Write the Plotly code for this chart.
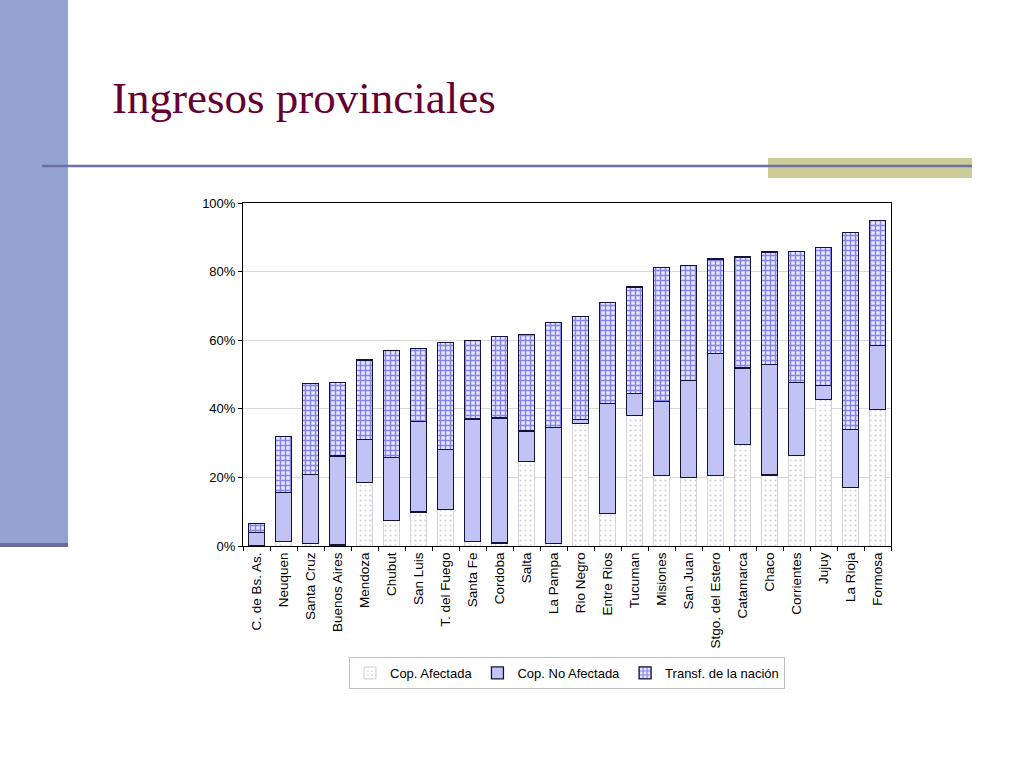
import plotly.graph_objects as go

provincias = ["C. de Bs. As.", "Neuquen", "Santa Cruz", "Buenos Aires", "Mendoza", "Chubut",
              "San Luis", "T. del Fuego", "Santa Fe", "Cordoba", "Salta", "La Pampa",
              "Rio Negro", "Entre Rios", "Tucuman", "Misiones", "San Juan", "Stgo. del Estero",
              "Catamarca", "Chaco", "Corrientes", "Jujuy", "La Rioja", "Formosa"]
cop_afectada = [0.0, 1.4, 0.8, 0.3, 18.5, 7.5, 9.9, 10.6, 1.4, 0.9, 24.6, 0.8,
                35.7, 9.4, 38.0, 20.5, 20.0, 20.5, 29.6, 20.7, 26.4, 42.8, 17.1, 39.8]
cop_no_afectada = [4.0, 14.1, 20.1, 25.9, 12.6, 18.4, 26.3, 17.5, 35.6, 36.4, 8.9, 33.8,
                   1.2, 32.2, 6.5, 21.7, 28.2, 35.6, 22.3, 32.3, 21.3, 3.9, 16.9, 18.6]
transf_nacion = [2.6, 16.5, 26.5, 21.4, 23.1, 31.1, 21.4, 31.3, 23.0, 23.7, 28.2, 30.5,
                 30.0, 29.3, 31.0, 39.0, 33.5, 27.6, 32.4, 32.7, 38.1, 40.4, 57.5, 36.4]
y_ticks = [0, 20, 40, 60, 80, 100]
y_labels = ["0%", "20%", "40%", "60%", "80%", "100%"]

# plot area in pixels
L, R, T, B = 243, 891, 203, 546
W, H = R - L, B - T
def px(x):
    return (x - L) / W
def py(y):
    return (B - y) / H

fig = go.Figure()
fig.add_trace(go.Bar(
    name="Cop. Afectada", x=provincias, y=cop_afectada,
    marker=dict(color="white", line=dict(color="#C8C8D0", width=0.8),
                pattern=dict(shape=".", fgcolor="#A0A0B4", bgcolor="white", size=5, solidity=0.15)),
))
fig.add_trace(go.Bar(
    name="Cop. No Afectada", x=provincias, y=cop_no_afectada,
    marker=dict(color="#C0C3F4", line=dict(color="#141438", width=1.3)),
))
fig.add_trace(go.Bar(
    name="Transf. de la nación", x=provincias, y=transf_nacion,
    marker=dict(color="#E8E8FF", line=dict(color="#141438", width=1.3),
                pattern=dict(shape="+", fgcolor="#1E1EDC", bgcolor="#E8E8FF", size=5, solidity=0.5)),
))

shapes = [
    dict(type="rect", xref="paper", yref="paper", x0=px(0), x1=px(68), y0=py(545), y1=py(0),
         fillcolor="#94A3D3", line=dict(width=0), layer="below"),
    dict(type="line", xref="paper", yref="paper", x0=px(0), x1=px(68), y0=py(545), y1=py(545),
         line=dict(color="#6B6B9E", width=4), layer="below"),
    dict(type="rect", xref="paper", yref="paper", x0=px(768), x1=px(972), y0=py(178), y1=py(158),
         fillcolor="#CCCC99", line=dict(width=0), layer="below"),
    dict(type="line", xref="paper", yref="paper", x0=px(42), x1=px(972), y0=py(166), y1=py(166),
         line=dict(color="#6E6FA6", width=2.5), layer="below"),
]

fig.update_layout(
    width=1024, height=768,
    margin=dict(l=L, r=1024 - R, t=T, b=768 - B, autoexpand=False),
    paper_bgcolor="white", plot_bgcolor="white",
    barmode="stack", bargap=0.42,
    font=dict(family="Liberation Sans, Arial, sans-serif", size=13, color="black"),
    shapes=shapes,
    annotations=[dict(text="Ingresos provinciales", xref="paper", yref="paper",
                      x=px(110), y=py(98), xanchor="left", yanchor="middle", showarrow=False,
                      font=dict(family="Liberation Serif, Times New Roman, serif", size=45, color="#660033"))],
    legend=dict(orientation="h", x=px(567), xanchor="center", y=py(657), yanchor="top",
                bordercolor="#C0C0C0", borderwidth=1, font=dict(size=13, color="black"),
                traceorder="normal", itemwidth=30, tracegroupgap=0),
    showlegend=True,
)
fig.update_yaxes(range=[0, 100], tickvals=y_ticks, ticktext=y_labels, showgrid=True,
                 gridcolor="#D8D8D8", gridwidth=1, showline=True, linecolor="black", linewidth=1,
                 mirror=True, ticks="outside", ticklen=4, tickcolor="black",
                 tickfont=dict(size=13, color="black"), zeroline=False)
fig.update_xaxes(tickangle=-90, showline=True, linecolor="black", linewidth=1, mirror=True,
                 ticks="outside", tickson="boundaries", ticklen=4, tickcolor="black",
                 tickfont=dict(size=13.5, color="black"), showgrid=False)

fig.write_html("out.html", config={"displayModeBar": False},
               post_script="document.body.style.margin='0';document.body.style.overflow='hidden';")
